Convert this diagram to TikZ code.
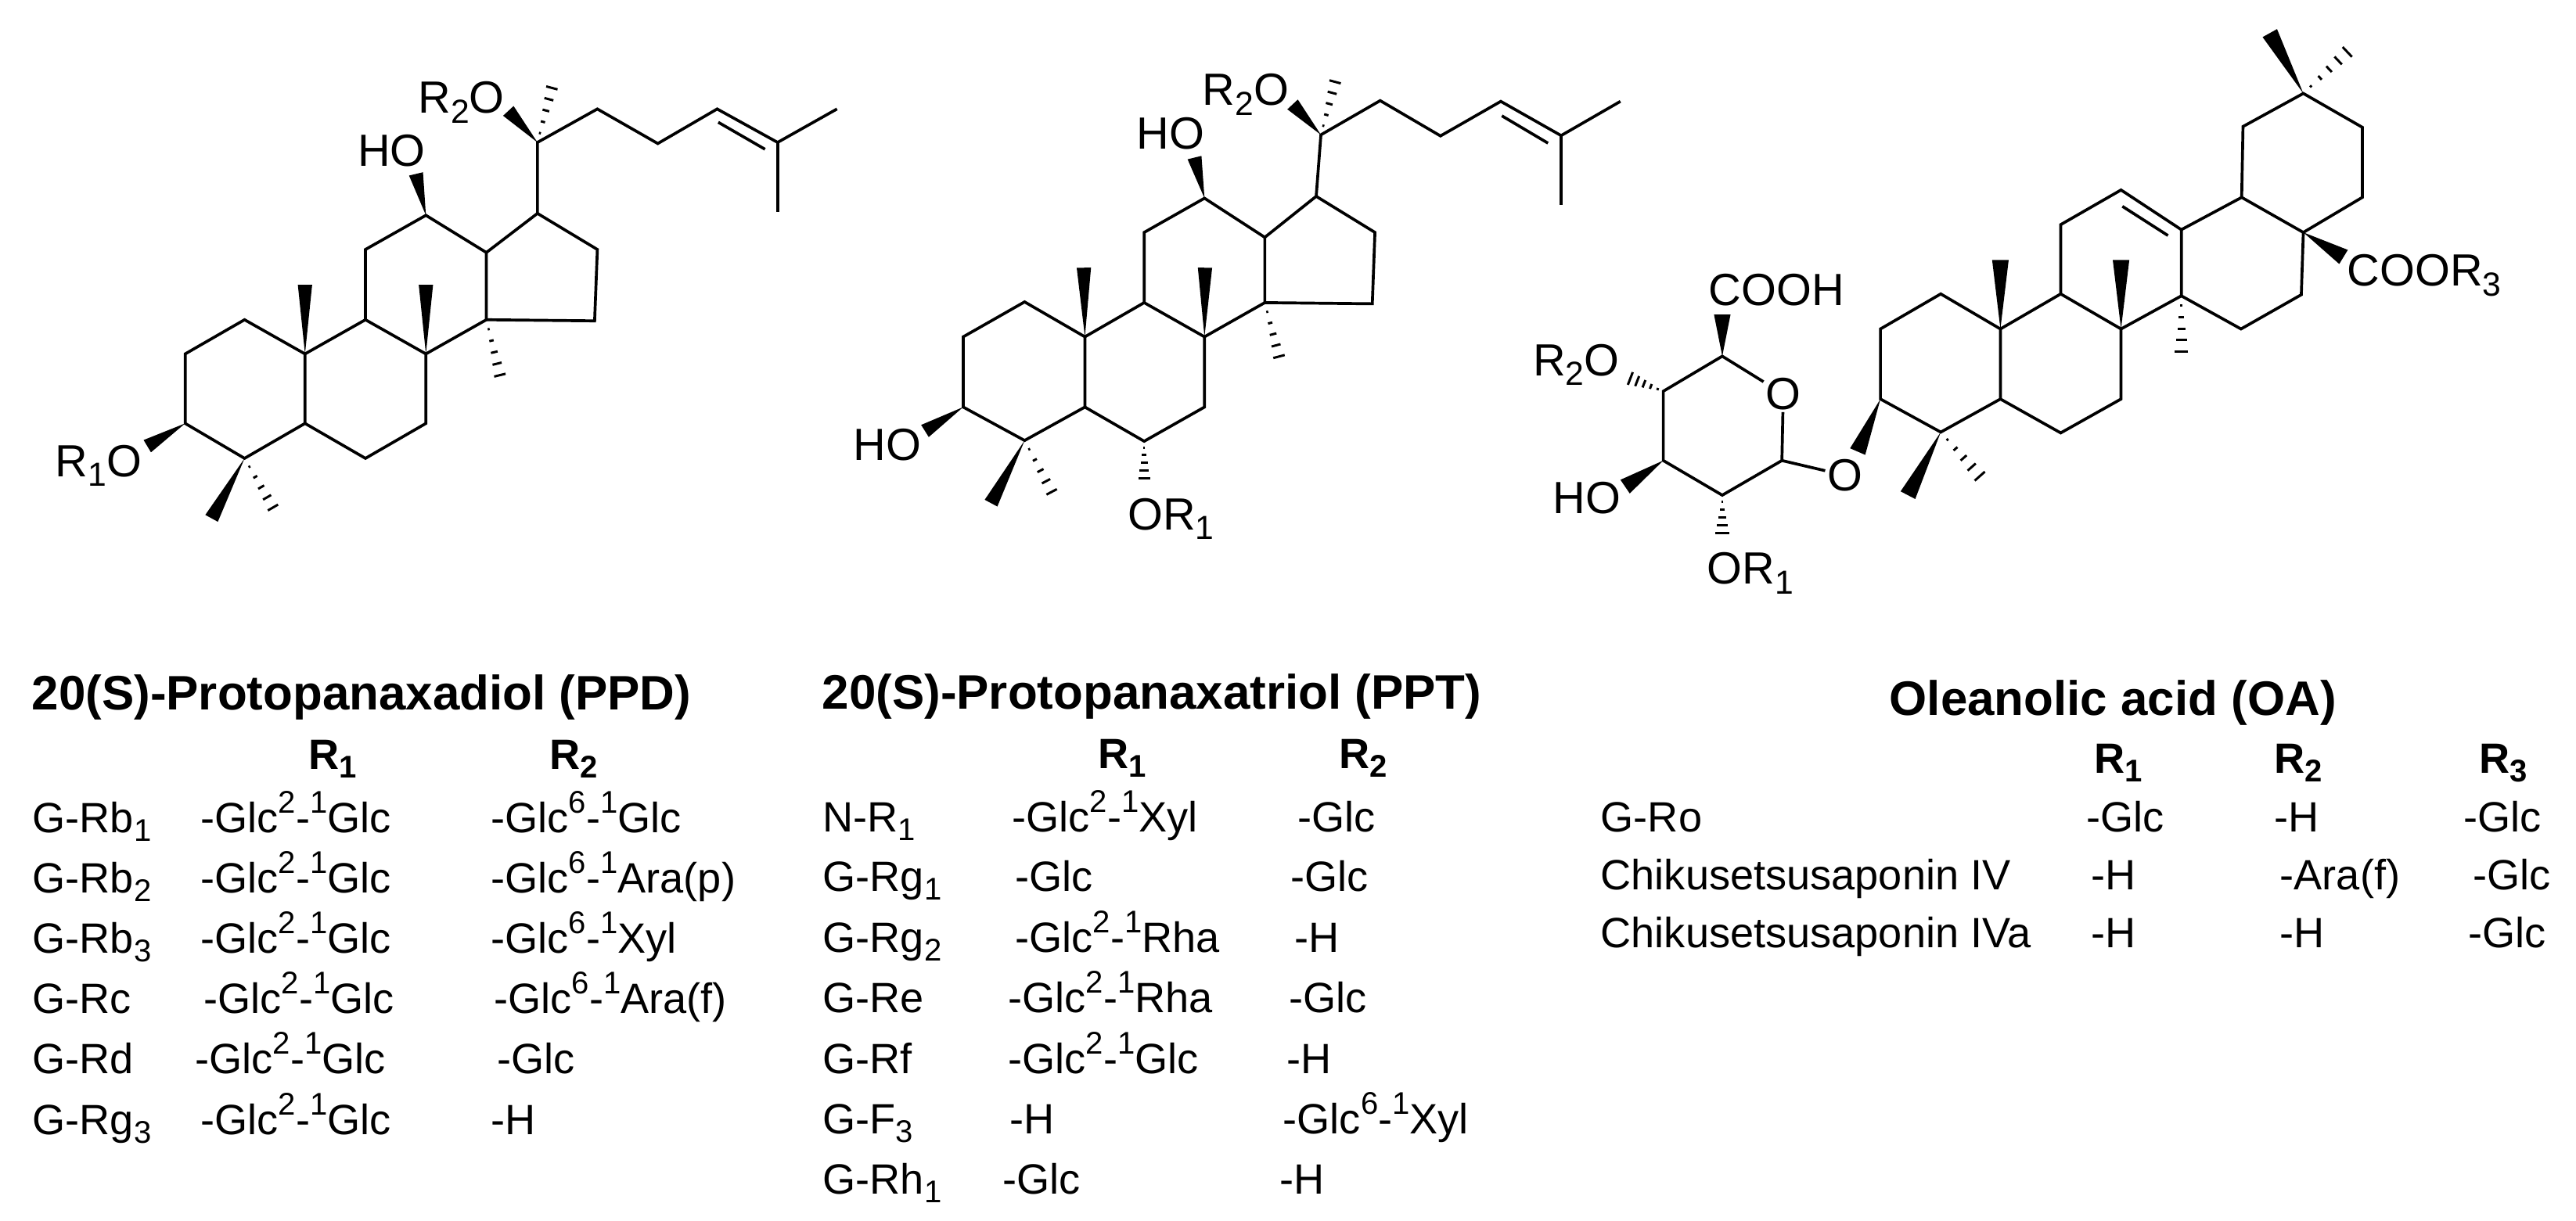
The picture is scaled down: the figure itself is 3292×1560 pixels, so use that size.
\documentclass[tikz,border=0pt]{standalone}
\usepackage{fontspec}
\setmainfont{Liberation Sans}
\usetikzlibrary{calc}
\newcommand{\lsub}[1]{\raisebox{-0.22em}{\scalebox{0.74}{#1}}}
\newcommand{\lsup}[1]{\raisebox{0.46em}{\scalebox{0.74}{#1}}}
\newcommand{\glclink}[3]{-Glc\lsup{#1}-\lsup{1}#3}
\newcommand{\wedgehalf}{2.6}
\newcommand{\wedgebond}[2]{\fill (#1) -- ($(#2)!\wedgehalf pt!90:(#1)$) -- ($(#2)!\wedgehalf pt!-90:(#1)$) -- cycle;}
\newcommand{\hashbond}[2]{\foreach \t [evaluate=\t as \hw using \t*\wedgehalf] in {0.14,0.31,0.48,0.65,0.82,1}
  \draw[hashline] ($(#1)!\t!(#2)!\hw pt!90:(#2)$) -- ($(#1)!\t!(#2)!\hw pt!-90:(#2)$);}
% shared skeleton of the two dammarane pictures
\newcommand{\dammarane}{
  \draw[bond] (C3)--(C4)--(C5)--(C10)--(C1)--(C2)--cycle;
  \draw[bond] (C5)--(C6)--(C7)--(C8)--(C9)--(C10);
  \draw[bond] (C9)--(C11)--(C12)--(C13)--(C14)--(C8);
  \draw[bond] (C13)--(C17)--(C16)--(C15)--(C14);
  \draw[bond] (C17)--(C20)--(C22)--(C23)--(C24)--(C25)--(C26);
  \draw[bond] (C25)--(C27);
  \draw[bond] (D1)--(D2);
  \wedgebond{C12}{W12}
  \wedgebond{C10}{W10}
  \wedgebond{C8}{W8}
  \wedgebond{C20}{W20}
  \wedgebond{C4}{W4}
  \wedgebond{C3}{W3}
  \hashbond{C14}{H14}
  \hashbond{C20}{H20}
  \hashbond{C4}{H4}
}
\tikzset{
  bond/.style={draw=black, line width=1.05pt, line join=miter},
  hashline/.style={draw=black, line width=0.85pt},
  atomlbl/.style={font=\fontsize{16.4}{18}\selectfont, anchor=base west, inner sep=0pt},
  atomo/.style={font=\fontsize{16.4}{18}\selectfont, inner sep=0.6pt},
  tbl/.style={font=\fontsize{15.4}{18}\selectfont, anchor=base west, inner sep=0pt},
  hdr/.style={font=\fontsize{15.4}{18}\selectfont\bfseries, anchor=base west, inner sep=0pt},
  ttl/.style={font=\fontsize{17.6}{20}\selectfont\bfseries, anchor=base west, inner sep=0pt}
}
\begin{document}
\begin{tikzpicture}[x=0.01cm,y=-0.01cm]
  \useasboundingbox (0,0) rectangle (3292,1560);

  % PPD skeleton
  \begin{scope}[x=0.007015cm,y=-0.004847cm]
    \coordinate (C3) at (337,1115);
    \coordinate (C4) at (445,1207);
    \coordinate (C5) at (555,1115);
    \coordinate (C10) at (555,932);
    \coordinate (C1) at (445,842);
    \coordinate (C2) at (337,932);
    \coordinate (C6) at (665,1207);
    \coordinate (C7) at (775,1115);
    \coordinate (C8) at (775,932);
    \coordinate (C9) at (665,842);
    \coordinate (C11) at (665,657);
    \coordinate (C12) at (775,567);
    \coordinate (C13) at (885,665);
    \coordinate (C14) at (885,842);
    \coordinate (C15) at (1082,845);
    \coordinate (C16) at (1087,657);
    \coordinate (C17) at (978,562);
    \coordinate (C20) at (978,375);
    \coordinate (C22) at (1087,287);
    \coordinate (C23) at (1197,378);
    \coordinate (C24) at (1305,287);
    \coordinate (C25) at (1415,375);
    \coordinate (C26) at (1523,287);
    \coordinate (C27) at (1415,558);
    \coordinate (D1) at (1307,322);
    \coordinate (D2) at (1392,393);
    \coordinate (W12) at (757,458);
    \coordinate (W10) at (555,750);
    \coordinate (W8) at (775,750);
    \coordinate (W20) at (925,292);
    \coordinate (W4) at (385,1365);
    \coordinate (W3) at (268,1175);
    \coordinate (H14) at (915,1020);
    \coordinate (H20) at (1010,200);
    \coordinate (H4) at (508,1365);
    \dammarane
    \node[atomlbl] (ppdR2O) at (760,298) {R\lsub{2}O};
    \node[atomlbl] (ppdHO) at (650,438) {HO};
    \node[atomlbl] (ppdR1O) at (100,1255) {R\lsub{1}O};
  \end{scope}

  % PPT skeleton
  \begin{scope}[shift={(1050,0)},x=0.006697cm,y=-0.004847cm]
    \coordinate (C3) at (270,1072);
    \coordinate (C4) at (387,1160);
    \coordinate (C5) at (502,1072);
    \coordinate (C10) at (502,887);
    \coordinate (C1) at (387,795);
    \coordinate (C2) at (270,887);
    \coordinate (C6) at (615,1162);
    \coordinate (C7) at (730,1072);
    \coordinate (C8) at (730,887);
    \coordinate (C9) at (615,797);
    \coordinate (C11) at (615,612);
    \coordinate (C12) at (730,522);
    \coordinate (C13) at (845,625);
    \coordinate (C14) at (845,797);
    \coordinate (C15) at (1050,800);
    \coordinate (C16) at (1055,612);
    \coordinate (C17) at (943,517);
    \coordinate (C20) at (952,355);
    \coordinate (C22) at (1065,265);
    \coordinate (C23) at (1180,358);
    \coordinate (C24) at (1295,267);
    \coordinate (C25) at (1410,357);
    \coordinate (C26) at (1523,267);
    \coordinate (C27) at (1410,540);
    \coordinate (D1) at (1297,305);
    \coordinate (D2) at (1385,377);
    \coordinate (W12) at (711,415);
    \coordinate (W10) at (500,705);
    \coordinate (W8) at (731,705);
    \coordinate (W20) at (898,275);
    \coordinate (W4) at (323,1325);
    \coordinate (W3) at (197,1135);
    \coordinate (H14) at (878,970);
    \coordinate (H20) at (985,185);
    \coordinate (H4) at (450,1325);
    \coordinate (H6) at (615,1280);
    \dammarane
    \hashbond{C6}{H6}
    \node[atomlbl] (pptR2O) at (725,277) {R\lsub{2}O};
    \node[atomlbl] (pptHOa) at (600,393) {HO};
    \node[atomlbl] (pptHOb) at (60,1212) {HO};
    \node[atomlbl] (pptOR1) at (583,1395) {OR\lsub{1}};
  \end{scope}

  % OA skeleton with its sugar
  \begin{scope}[shift={(1950,0)},x=0.008562cm,y=-0.004975cm]
    \renewcommand{\wedgehalf}{3.0}
    \coordinate (S1) at (382,1183);
    \coordinate (S2) at (293,1272);
    \coordinate (S3) at (205,1183);
    \coordinate (S4) at (205,1005);
    \coordinate (S5) at (293,915);
    \node[atomo] (Oring) at (384,1012) {O};
    \node[atomo] (Oglyc) at (476,1221) {O};
    \draw[bond] (Oring)--(S1)--(S2)--(S3)--(S4)--(S5)--(Oring);
    \draw[bond] (S1)--(Oglyc);
    \coordinate (WS5) at (293,808);
    \coordinate (WS3) at (148,1250);
    \coordinate (HS4) at (145,965);
    \coordinate (HS2) at (293,1390);
    \wedgebond{S5}{WS5}
    \wedgebond{S3}{WS3}
    \hashbond{S4}{HS4}
    \hashbond{S2}{HS2}

    \coordinate (C3) at (529,1025);
    \coordinate (C4) at (619,1110);
    \coordinate (C5) at (708,1025);
    \coordinate (C10) at (708,845);
    \coordinate (C1) at (619,755);
    \coordinate (C2) at (529,845);
    \coordinate (C6) at (798,1112);
    \coordinate (C7) at (888,1025);
    \coordinate (C8) at (888,845);
    \coordinate (C9) at (798,755);
    \coordinate (C11) at (798,577);
    \coordinate (C12) at (888,488);
    \coordinate (C13) at (978,590);
    \coordinate (C14) at (978,760);
    \coordinate (C15) at (1067,845);
    \coordinate (C16) at (1157,757);
    \coordinate (C17) at (1160,597);
    \coordinate (C18) at (1068,507);
    \coordinate (C19) at (1070,325);
    \coordinate (C20) at (1160,240);
    \coordinate (C21) at (1248,327);
    \coordinate (C22) at (1248,507);
    \coordinate (D1) at (890,530);
    \coordinate (D2) at (958,605);
    \draw[bond] (C3)--(C4)--(C5)--(C10)--(C1)--(C2)--cycle;
    \draw[bond] (C5)--(C6)--(C7)--(C8)--(C9)--(C10);
    \draw[bond] (C9)--(C11)--(C12)--(C13)--(C14)--(C8);
    \draw[bond] (C14)--(C15)--(C16)--(C17)--(C18)--(C13);
    \draw[bond] (C18)--(C19)--(C20)--(C21)--(C22)--(C17);
    \draw[bond] (D1)--(D2);
    \coordinate (W3) at (495,1160);
    \coordinate (W4) at (570,1272);
    \coordinate (W10) at (708,668);
    \coordinate (W8) at (888,668);
    \coordinate (W17) at (1220,660);
    \coordinate (W20) at (1110,85);
    \coordinate (H4) at (690,1248);
    \coordinate (H14) at (978,935);
    \coordinate (H20) at (1240,110);
    \wedgebond{C3}{W3}
    \wedgebond{C4}{W4}
    \wedgebond{C10}{W10}
    \wedgebond{C8}{W8}
    \wedgebond{C17}{W17}
    \wedgebond{C20}{W20}
    \hashbond{C4}{H4}
    \hashbond{C14}{H14}
    \hashbond{C20}{H20}
    \node[atomlbl] (oaCOOH) at (272,785) {COOH};
    \node[atomlbl] (oaR2O) at (10,965) {R\lsub{2}O};
    \node[atomlbl] (oaHO) at (40,1320) {HO};
    \node[atomlbl] (oaOR1) at (270,1500) {OR\lsub{1}};
    \node[atomlbl] (oaCOOR) at (1225,735) {COOR\lsub{3}};
  \end{scope}

  % PPD table
  \node[ttl] (ppdtitle) at (40,907) {20(S)-Protopanaxadiol (PPD)};
  \node[hdr] (ppdhA) at (394,983) {R\lsub{1}};
  \node[hdr] (ppdhB) at (702,983) {R\lsub{2}};
  \node[tbl] (rba) at (41,1064) {G-Rb\lsub{1}};
  \node[tbl] (rbaA) at (256,1064) {\glclink{2}{1}{Glc}};
  \node[tbl] (rbaB) at (627,1064) {\glclink{6}{1}{Glc}};
  \node[tbl] (rbb) at (41,1141) {G-Rb\lsub{2}};
  \node[tbl] (rbbA) at (256,1141) {\glclink{2}{1}{Glc}};
  \node[tbl] (rbbB) at (627,1141) {\glclink{6}{1}{Ara(p)}};
  \node[tbl] (rbc) at (41,1218) {G-Rb\lsub{3}};
  \node[tbl] (rbcA) at (256,1218) {\glclink{2}{1}{Glc}};
  \node[tbl] (rbcB) at (627,1218) {\glclink{6}{1}{Xyl}};
  \node[tbl] (rc) at (41,1295) {G-Rc};
  \node[tbl] (rcA) at (260,1295) {\glclink{2}{1}{Glc}};
  \node[tbl] (rcB) at (631,1295) {\glclink{6}{1}{Ara(f)}};
  \node[tbl] (rd) at (41,1372) {G-Rd};
  \node[tbl] (rdA) at (249,1372) {\glclink{2}{1}{Glc}};
  \node[tbl] (rdB) at (635,1372) {-Glc};
  \node[tbl] (rgc) at (41,1450) {G-Rg\lsub{3}};
  \node[tbl] (rgcA) at (256,1450) {\glclink{2}{1}{Glc}};
  \node[tbl] (rgcB) at (627,1450) {-H};

  % PPT table
  \node[ttl] (ppttitle) at (1050,906) {20(S)-Protopanaxatriol (PPT)};
  \node[hdr] (ppthA) at (1403,982) {R\lsub{1}};
  \node[hdr] (ppthB) at (1711,982) {R\lsub{2}};
  \node[tbl] (nr) at (1051,1063) {N-R\lsub{1}};
  \node[tbl] (nrA) at (1293,1063) {\glclink{2}{1}{Xyl}};
  \node[tbl] (nrB) at (1658,1063) {-Glc};
  \node[tbl] (rga) at (1051,1139) {G-Rg\lsub{1}};
  \node[tbl] (rgaA) at (1297,1139) {-Glc};
  \node[tbl] (rgaB) at (1649,1139) {-Glc};
  \node[tbl] (rgb) at (1051,1217) {G-Rg\lsub{2}};
  \node[tbl] (rgbA) at (1297,1217) {\glclink{2}{1}{Rha}};
  \node[tbl] (rgbB) at (1654,1217) {-H};
  \node[tbl] (re) at (1051,1294) {G-Re};
  \node[tbl] (reA) at (1288,1294) {\glclink{2}{1}{Rha}};
  \node[tbl] (reB) at (1647,1294) {-Glc};
  \node[tbl] (rf) at (1051,1372) {G-Rf};
  \node[tbl] (rfA) at (1288,1372) {\glclink{2}{1}{Glc}};
  \node[tbl] (rfB) at (1644,1372) {-H};
  \node[tbl] (fc) at (1051,1449) {G-F\lsub{3}};
  \node[tbl] (fcA) at (1290,1449) {-H};
  \node[tbl] (fcB) at (1639,1449) {\glclink{6}{1}{Xyl}};
  \node[tbl] (rha) at (1051,1526) {G-Rh\lsub{1}};
  \node[tbl] (rhaA) at (1281,1526) {-Glc};
  \node[tbl] (rhaB) at (1635,1526) {-H};

  % OA table
  \node[ttl] (oatitle) at (2414,914) {Oleanolic acid (OA)};
  \node[hdr] (oahA) at (2676,988) {R\lsub{1}};
  \node[hdr] (oahB) at (2906,988) {R\lsub{2}};
  \node[hdr] (oahC) at (3168,988) {R\lsub{3}};
  \node[tbl] (ro) at (2045,1063) {G-Ro};
  \node[tbl] (roA) at (2666,1063) {-Glc};
  \node[tbl] (roB) at (2906,1063) {-H};
  \node[tbl] (roC) at (3148,1063) {-Glc};
  \node[tbl] (chk) at (2045,1137) {Chikusetsusaponin IV};
  \node[tbl] (chkA) at (2672,1137) {-H};
  \node[tbl] (chkB) at (2913,1137) {-Ara(f)};
  \node[tbl] (chkC) at (3160,1137) {-Glc};
  \node[tbl] (chka) at (2045,1211) {Chikusetsusaponin IVa};
  \node[tbl] (chkaA) at (2672,1211) {-H};
  \node[tbl] (chkaB) at (2913,1211) {-H};
  \node[tbl] (chkaC) at (3154,1211) {-Glc};
\end{tikzpicture}
\end{document}
